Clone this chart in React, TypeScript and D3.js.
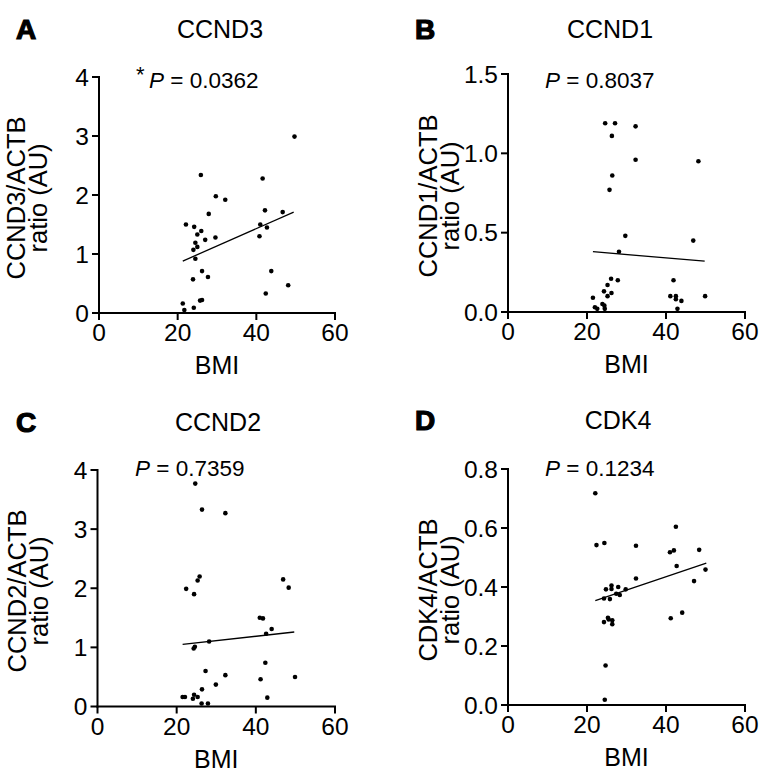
import React from 'react';
import * as d3 from 'd3';

// ---- Data ----
const bmiA = [49.7, 25.9, 41.6, 29.7, 32.1, 42.2, 46.7, 27.9, 22.1, 41.0, 24.2, 42.7, 26.0, 25.0, 29.6, 40.8, 27.0, 24.5, 25.0, 24.0, 24.5, 26.2, 43.8, 27.7, 23.9, 48.1, 42.4, 25.7, 26.2, 21.3, 24.1, 21.7];
const ccnd3 = [2.99, 2.34, 2.28, 1.98, 1.92, 1.74, 1.71, 1.68, 1.50, 1.50, 1.46, 1.45, 1.39, 1.33, 1.28, 1.30, 1.24, 1.19, 1.12, 1.07, 0.92, 0.71, 0.71, 0.61, 0.57, 0.47, 0.33, 0.21, 0.22, 0.16, 0.09, 0.05];
const fitA = [[21.3, 0.88], [49.5, 1.71]];

const bmiB = [24.6, 27.1, 32.3, 26.3, 32.3, 48.2, 26.4, 25.7, 29.7, 46.9, 28.1, 26.1, 27.8, 41.9, 25.2, 24.3, 26.2, 21.5, 25.2, 41.1, 42.5, 49.9, 42.5, 43.9, 23.9, 24.4, 22.0, 22.6, 24.5, 42.9];
const ccnd1 = [1.19, 1.19, 1.17, 1.11, 0.96, 0.95, 0.86, 0.77, 0.48, 0.45, 0.38, 0.21, 0.20, 0.20, 0.17, 0.13, 0.12, 0.09, 0.10, 0.10, 0.10, 0.10, 0.08, 0.07, 0.05, 0.04, 0.03, 0.02, 0.02, 0.02];
const fitB = [[21.5, 0.38], [49.8, 0.32]];

const bmiC = [24.7, 26.4, 32.3, 25.8, 25.3, 46.9, 22.4, 48.3, 24.4, 41.0, 41.8, 44.0, 42.6, 28.2, 24.6, 24.3, 42.4, 27.3, 32.3, 49.9, 41.2, 29.9, 26.4, 24.4, 21.5, 22.1, 25.3, 24.1, 42.9, 26.3, 27.9];
const ccnd2 = [3.77, 3.33, 3.27, 2.20, 2.13, 2.15, 1.99, 2.01, 1.90, 1.50, 1.49, 1.31, 1.23, 1.10, 1.01, 0.98, 0.74, 0.60, 0.53, 0.50, 0.46, 0.37, 0.29, 0.20, 0.16, 0.16, 0.16, 0.13, 0.15, 0.05, 0.05];
const fitC = [[21.5, 1.05], [49.7, 1.26]];

const bmiD = [22.1, 42.5, 22.4, 24.4, 32.4, 48.4, 41.0, 42.0, 42.7, 50.0, 32.4, 47.1, 26.2, 27.9, 24.8, 26.2, 29.8, 27.4, 28.3, 24.3, 25.8, 25.3, 25.5, 44.1, 41.2, 24.3, 26.4, 26.4, 24.7, 24.5];
const cdk4 = [0.718, 0.604, 0.542, 0.549, 0.540, 0.526, 0.518, 0.524, 0.471, 0.459, 0.429, 0.420, 0.405, 0.400, 0.392, 0.393, 0.392, 0.377, 0.373, 0.361, 0.359, 0.296, 0.290, 0.313, 0.294, 0.281, 0.287, 0.274, 0.134, 0.018];
const fitD = [[22.1, 0.354], [50.2, 0.481]];

const xTicks = [0, 20, 40, 60];
const yTicksA = [0, 1, 2, 3, 4];
const yTicksB = [0, 0.5, 1.0, 1.5];
const yTicksC = [0, 1, 2, 3, 4];
const yTicksD = [0, 0.2, 0.4, 0.6, 0.8];

const FONT = "'Liberation Sans', Arial, Helvetica, sans-serif";

type PanelProps = {
  letter: string; title: string; pValue: string; star?: boolean;
  yName: string; xs: number[]; ys: number[]; fit: number[][];
  yTicks: number[]; yFmt: (v: number) => string; yMax: number;
  left: number; right: number; top: number; bottom: number;
  letterX: number; letterY: number; titleX: number; titleY: number;
  pX: number; pY: number; lab1: number; lab2: number; labY: number;
};

function Panel(p: PanelProps) {
  const x = d3.scaleLinear().domain([0, 60]).range([p.left, p.right]);
  const y = d3.scaleLinear().domain([0, p.yMax]).range([p.bottom, p.top]);
  const line = d3.line<number[]>().x(d => x(d[0])).y(d => y(d[1]));
  const tick = 7;
  return (
    <g fontFamily={FONT} fill="#000">
      <text x={p.letterX} y={p.letterY} fontSize={28} fontWeight="bold" stroke="#000" strokeWidth={1.2}>{p.letter}</text>
      <text x={p.titleX} y={p.titleY} fontSize={25} textAnchor="middle">{p.title}</text>
      {p.star && <text x={p.pX - 13} y={p.pY - 6} fontSize={22}>*</text>}
      <text x={p.pX} y={p.pY} fontSize={22.5}>
        <tspan fontStyle="italic">P</tspan> = {p.pValue}
      </text>
      {/* y axis */}
      <line x1={p.left} x2={p.left} y1={y(p.yMax) - 1} y2={p.bottom + 1} stroke="#000" strokeWidth={2} />
      {p.yTicks.map(t => (
        <g key={'y' + t}>
          <line x1={p.left - tick} x2={p.left} y1={y(t)} y2={y(t)} stroke="#000" strokeWidth={2} />
          <text x={p.left - 10} y={y(t)} dy="0.36em" fontSize={24.5} textAnchor="end">{p.yFmt(t)}</text>
        </g>
      ))}
      {/* x axis */}
      <line x1={p.left - 1} x2={p.right + 1} y1={p.bottom} y2={p.bottom} stroke="#000" strokeWidth={2} />
      {xTicks.map(t => (
        <g key={'x' + t}>
          <line x1={x(t)} x2={x(t)} y1={p.bottom} y2={p.bottom + tick} stroke="#000" strokeWidth={2} />
          <text x={x(t)} y={p.bottom + 28} fontSize={24.5} textAnchor="middle">{t}</text>
        </g>
      ))}
      <text x={(p.left + p.right) / 2} y={p.bottom + 61} fontSize={25} textAnchor="middle">BMI</text>
      <text transform={`translate(${p.lab1},${p.labY}) rotate(-90)`} fontSize={25.5} textAnchor="middle">{p.yName + '/ACTB'}</text>
      <text transform={`translate(${p.lab2},${p.labY}) rotate(-90)`} fontSize={25.5} textAnchor="middle">ratio (AU)</text>
      {/* fit line */}
      <path d={line(p.fit) || ''} fill="none" stroke="#000" strokeWidth={1.3} />
      {/* points */}
      {p.xs.map((v, i) => (
        <circle key={i} cx={x(v)} cy={y(p.ys[i])} r={2.3} fill="#000" />
      ))}
    </g>
  );
}

const fInt = (v: number) => d3.format('d')(v);
const f1 = (v: number) => d3.format('.1f')(v);

export default function App() {
  return (
    <svg width={769} height={783} style={{ position: 'absolute', left: 0, top: 0, background: '#fff' }}>
      <rect width={769} height={783} fill="#fff" />
      <Panel letter="A" title="CCND3" pValue="0.0362" star yName="CCND3" xs={bmiA} ys={ccnd3} fit={fitA}
        yTicks={yTicksA} yFmt={fInt} yMax={4}
        left={99} right={335} top={77} bottom={313}
        letterX={16} letterY={39} titleX={220} titleY={38} pX={149} pY={87.5}
        lab1={25} lab2={47} labY={198} />
      <Panel letter="B" title="CCND1" pValue="0.8037" yName="CCND1" xs={bmiB} ys={ccnd1} fit={fitB}
        yTicks={yTicksB} yFmt={f1} yMax={1.5}
        left={508} right={745} top={74} bottom={312}
        letterX={415} letterY={39} titleX={610} titleY={38} pX={545} pY={87.5}
        lab1={437} lab2={459} labY={196} />
      <Panel letter="C" title="CCND2" pValue="0.7359" yName="CCND2" xs={bmiC} ys={ccnd2} fit={fitC}
        yTicks={yTicksC} yFmt={fInt} yMax={4}
        left={97.5} right={335} top={470} bottom={706.5}
        letterX={16} letterY={432} titleX={218} titleY={431} pX={135} pY={476}
        lab1={26} lab2={48} labY={591} />
      <Panel letter="D" title="CDK4" pValue="0.1234" yName="CDK4" xs={bmiD} ys={cdk4} fit={fitD}
        yTicks={yTicksD} yFmt={f1} yMax={0.8}
        left={508} right={745} top={469} bottom={705}
        letterX={415} letterY={430} titleX={618} titleY={429} pX={545} pY={476}
        lab1={437} lab2={459} labY={590} />
    </svg>
  );
}
